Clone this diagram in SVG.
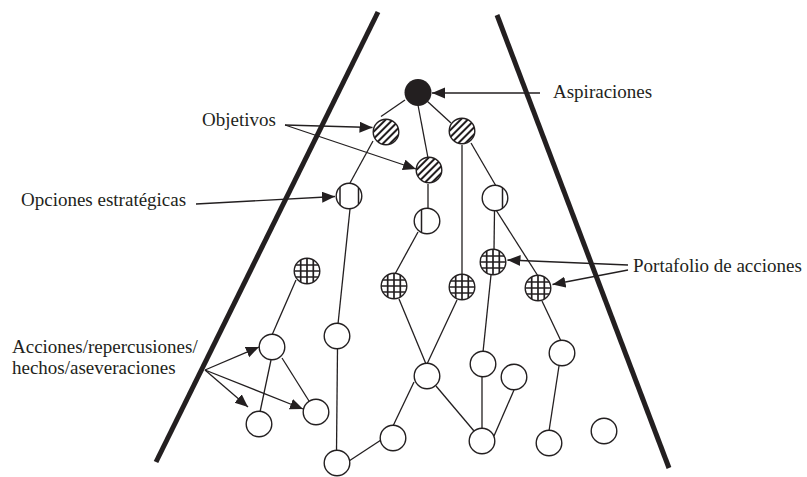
<svg xmlns="http://www.w3.org/2000/svg" xmlns:xlink="http://www.w3.org/1999/xlink" width="807" height="477" viewBox="0 0 807 477">
<style>
.bd{stroke:#231f20;stroke-width:5;stroke-linecap:butt;fill:none}
.e{stroke:#231f20;stroke-width:1.3;fill:none}
.a{stroke:#231f20;stroke-width:1.3;fill:none;marker-end:url(#ah)}
.ol{fill:none;stroke:#231f20;stroke-width:1.4}
.wf{fill:#fff}
.gl{stroke:#231f20;stroke-width:1.7}
.vl{stroke:#231f20;stroke-width:1.5}
.t{font-family:"Liberation Serif","Times New Roman",serif;font-size:19px;fill:#231f20}
</style>
<defs>
<marker id="ah" markerUnits="userSpaceOnUse" markerWidth="14" markerHeight="12" refX="13" refY="5.5" orient="auto">
<path d="M0,0 L13,5.5 L0,11 Z" fill="#231f20"/>
</marker>
<pattern id="hatch" patternUnits="userSpaceOnUse" width="5" height="5" patternTransform="rotate(45)">
<rect width="5" height="5" fill="#fff"/>
<rect x="0" y="0" width="2" height="5" fill="#231f20"/>
</pattern>
<clipPath id="cc"><circle r="12.8"/></clipPath>
<g id="sym-white"><circle r="12.8" class="wf"/><circle r="12.8" class="ol"/></g>
<g id="sym-black"><circle r="13.5" fill="#231f20"/></g>
<g id="sym-hatch"><circle r="12.8" fill="url(#hatch)"/><circle r="12.8" class="ol"/></g>
<g id="sym-grid"><circle r="12.8" class="wf"/>
<g clip-path="url(#cc)" class="gl">
<line x1="-6.3" y1="-14" x2="-6.3" y2="14"/><line x1="0" y1="-14" x2="0" y2="14"/><line x1="6.3" y1="-14" x2="6.3" y2="14"/>
<line x1="-14" y1="-6" x2="14" y2="-6"/><line x1="-14" y1="0" x2="14" y2="0"/><line x1="-14" y1="6" x2="14" y2="6"/>
</g><circle r="12.8" class="ol"/></g>
</defs>
<rect width="807" height="477" fill="#fff"/>
<g id="boundaries">
<line class="bd" x1="378" y1="12" x2="156" y2="462"/>
<line class="bd" x1="497" y1="15" x2="669" y2="468"/>
</g>
<g id="connectors">
<line class="e" x1="405" y1="100" x2="381" y2="116.5"/>
<line class="e" x1="418" y1="105" x2="428" y2="158"/>
<line class="e" x1="427" y1="101" x2="451" y2="123"/>
<line class="e" x1="373" y1="141" x2="350" y2="183"/>
<line class="e" x1="428" y1="184" x2="428" y2="209"/>
<line class="e" x1="462" y1="145" x2="462" y2="275"/>
<line class="e" x1="471" y1="143" x2="496" y2="186"/>
<line class="e" x1="350" y1="209" x2="338" y2="324"/>
<line class="e" x1="418" y1="232" x2="395" y2="274"/>
<line class="e" x1="494.5" y1="211" x2="494" y2="250"/>
<line class="e" x1="496" y1="210" x2="538" y2="276"/>
<line class="e" x1="296" y1="280" x2="272" y2="335"/>
<line class="e" x1="271" y1="360" x2="260" y2="412"/>
<line class="e" x1="282" y1="358" x2="309" y2="401"/>
<line class="e" x1="337.5" y1="349" x2="336.5" y2="451"/>
<line class="e" x1="399" y1="299" x2="426" y2="364"/>
<line class="e" x1="457" y1="300" x2="427" y2="364"/>
<line class="e" x1="491" y1="275" x2="483" y2="352"/>
<line class="e" x1="542" y1="301" x2="561" y2="341"/>
<line class="e" x1="414" y1="382" x2="393" y2="426"/>
<line class="e" x1="436" y1="386" x2="474" y2="431"/>
<line class="e" x1="482" y1="377" x2="482" y2="429"/>
<line class="e" x1="514" y1="390" x2="494" y2="436"/>
<line class="e" x1="559" y1="366" x2="549" y2="431"/>
<line class="e" x1="381" y1="440" x2="349" y2="461"/>
<line class="a" x1="540" y1="93" x2="432" y2="93"/>
<line class="a" x1="285" y1="125" x2="372.5" y2="127.5"/>
<line class="a" x1="285" y1="125" x2="416" y2="169"/>
<line class="a" x1="196" y1="204" x2="335" y2="196.5"/>
<line class="a" x1="628" y1="265" x2="507.5" y2="260"/>
<line class="a" x1="628" y1="270" x2="552.5" y2="284.5"/>
<line class="a" x1="205" y1="370" x2="259" y2="347"/>
<line class="a" x1="205" y1="370" x2="248" y2="407"/>
<line class="a" x1="205" y1="370" x2="303" y2="409"/>
</g>
<g id="aspiraciones-node" transform="translate(418,92.5)"><use xlink:href="#sym-black"/></g>
<g id="objetivo-1" transform="translate(386,132)"><use xlink:href="#sym-hatch"/></g>
<g id="objetivo-2" transform="translate(462,131)"><use xlink:href="#sym-hatch"/></g>
<g id="objetivo-3" transform="translate(429,170)"><use xlink:href="#sym-hatch"/></g>
<g id="opcion-1" transform="translate(349,196)"><circle r="12.8" class="wf"/><g clip-path="url(#cc)" class="vl"><line x1="-9" y1="-14" x2="-9" y2="14"/><line x1="9.5" y1="-14" x2="9.5" y2="14"/></g><circle r="12.8" class="ol"/></g>
<g id="opcion-2" transform="translate(427,221)"><circle r="12.8" class="wf"/><g clip-path="url(#cc)" class="vl"><line x1="-5.5" y1="-14" x2="-5.5" y2="14"/></g><circle r="12.8" class="ol"/></g>
<g id="opcion-3" transform="translate(495,198)"><circle r="12.8" class="wf"/><g clip-path="url(#cc)" class="vl"><line x1="7.5" y1="-14" x2="7.5" y2="14"/></g><circle r="12.8" class="ol"/></g>
<g id="portafolio-0" transform="translate(307,271)"><use xlink:href="#sym-grid"/></g>
<g id="portafolio-1" transform="translate(394,286)"><use xlink:href="#sym-grid"/></g>
<g id="portafolio-2" transform="translate(462,287)"><use xlink:href="#sym-grid"/></g>
<g id="portafolio-3" transform="translate(493,262)"><use xlink:href="#sym-grid"/></g>
<g id="portafolio-4" transform="translate(538,288)"><use xlink:href="#sym-grid"/></g>
<g id="accion-1" transform="translate(272,347)"><use xlink:href="#sym-white"/></g>
<g id="accion-2" transform="translate(337,336)"><use xlink:href="#sym-white"/></g>
<g id="accion-3" transform="translate(259,424)"><use xlink:href="#sym-white"/></g>
<g id="accion-4" transform="translate(316,412)"><use xlink:href="#sym-white"/></g>
<g id="accion-5" transform="translate(427,376)"><use xlink:href="#sym-white"/></g>
<g id="accion-6" transform="translate(483,364)"><use xlink:href="#sym-white"/></g>
<g id="accion-7" transform="translate(514,377)"><use xlink:href="#sym-white"/></g>
<g id="accion-8" transform="translate(562,353)"><use xlink:href="#sym-white"/></g>
<g id="accion-9" transform="translate(393,438)"><use xlink:href="#sym-white"/></g>
<g id="accion-10" transform="translate(482,441)"><use xlink:href="#sym-white"/></g>
<g id="accion-11" transform="translate(549,443)"><use xlink:href="#sym-white"/></g>
<g id="accion-12" transform="translate(604,431)"><use xlink:href="#sym-white"/></g>
<g id="accion-13" transform="translate(337,463)"><use xlink:href="#sym-white"/></g>
<g id="labels">
<text class="t" x="553" y="98">Aspiraciones</text>
<text class="t" x="202" y="126">Objetivos</text>
<text class="t" x="21" y="206">Opciones estratégicas</text>
<text class="t" x="633" y="272">Portafolio de acciones</text>
<text class="t" x="12" y="353">Acciones/repercusiones/</text>
<text class="t" x="12" y="374">hechos/aseveraciones</text>
</g>
</svg>
